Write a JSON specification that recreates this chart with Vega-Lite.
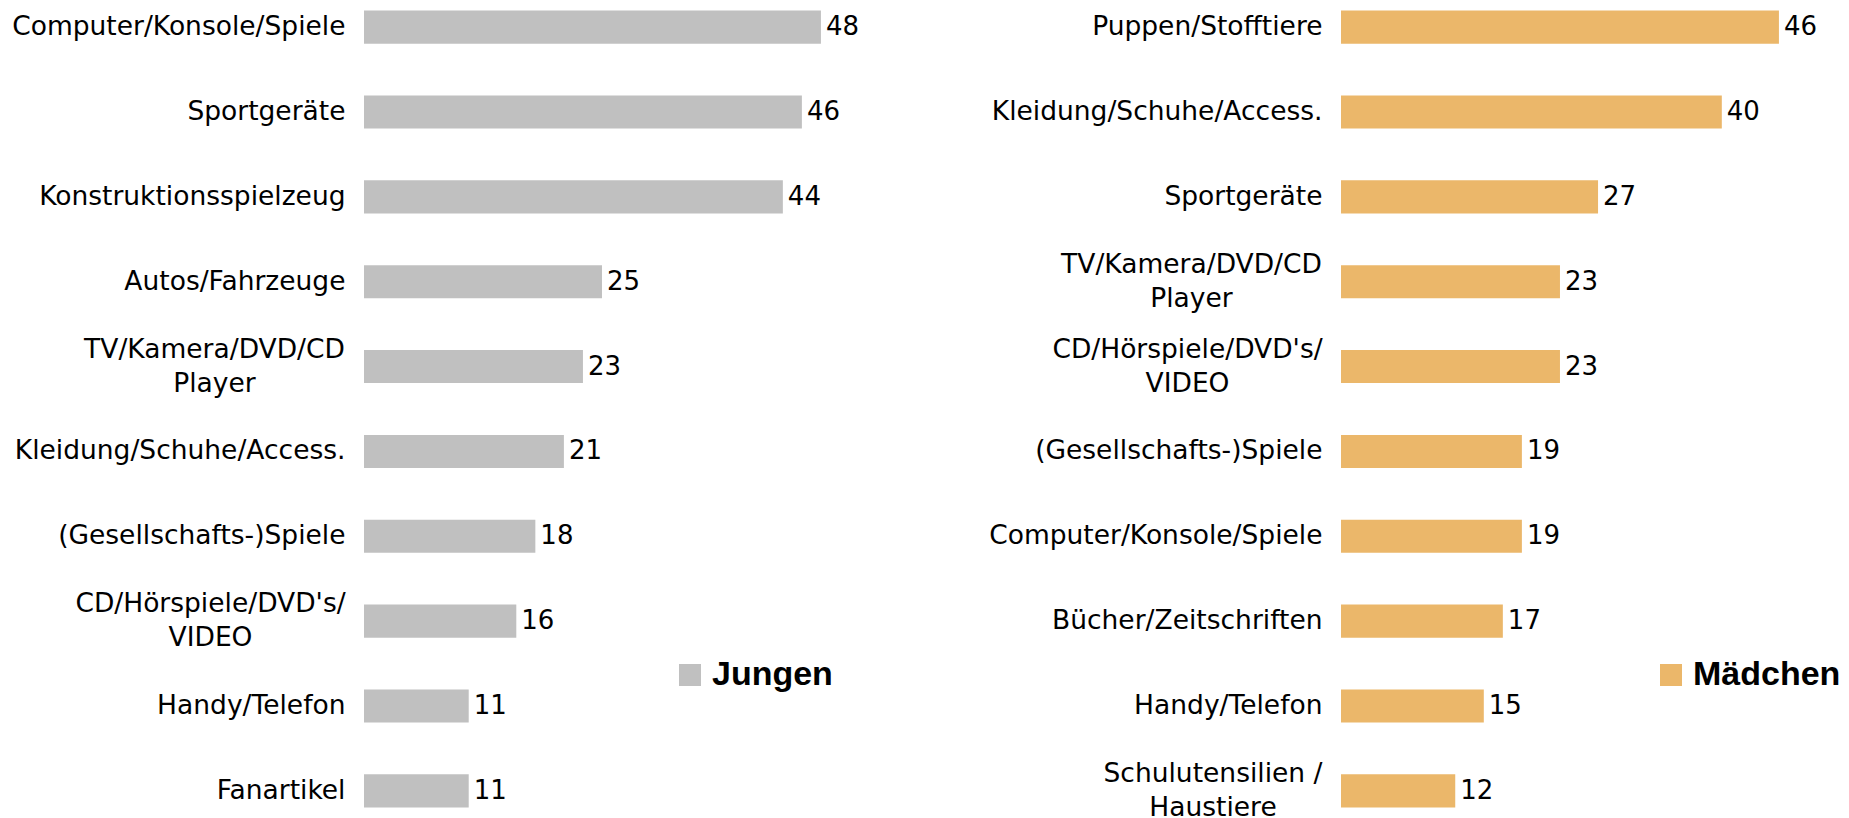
{
  "$schema": "https://vega.github.io/schema/vega-lite/v6.json",
  "padding": {"left": 9, "top": 0, "right": 0, "bottom": 0},
  "background": "white",
  "config": {
    "view": {"stroke": null},
    "concat": {"spacing": 0},
    "font": "DejaVu Sans",
    "axisY": {
      "title": null, "domain": false, "ticks": false, "tickSize": 0,
      "labelFontSize": 26.5, "labelFont": "DejaVu Sans",
      "labelColor": "#000000", "labelLimit": 0, "labelLineHeight": 34,
      "minExtent": 355, "maxExtent": 355
    }
  },
  "data": {
    "values": [
      {"gruppe": "Jungen", "kategorie": "Computer/Konsole/Spiele", "wert": 48},
      {"gruppe": "Jungen", "kategorie": "Sportgeräte", "wert": 46},
      {"gruppe": "Jungen", "kategorie": "Konstruktionsspielzeug", "wert": 44},
      {"gruppe": "Jungen", "kategorie": "Autos/Fahrzeuge", "wert": 25},
      {"gruppe": "Jungen", "kategorie": "TV/Kamera/DVD/CD\nPlayer", "wert": 23},
      {"gruppe": "Jungen", "kategorie": "Kleidung/Schuhe/Access.", "wert": 21},
      {"gruppe": "Jungen", "kategorie": "(Gesellschafts-)Spiele", "wert": 18},
      {"gruppe": "Jungen", "kategorie": "CD/Hörspiele/DVD's/\nVIDEO", "wert": 16},
      {"gruppe": "Jungen", "kategorie": "Handy/Telefon", "wert": 11},
      {"gruppe": "Jungen", "kategorie": "Fanartikel", "wert": 11},
      {"gruppe": "Mädchen", "kategorie": "Puppen/Stofftiere", "wert": 46},
      {"gruppe": "Mädchen", "kategorie": "Kleidung/Schuhe/Access.", "wert": 40},
      {"gruppe": "Mädchen", "kategorie": "Sportgeräte", "wert": 27},
      {"gruppe": "Mädchen", "kategorie": "TV/Kamera/DVD/CD\nPlayer", "wert": 23},
      {"gruppe": "Mädchen", "kategorie": "CD/Hörspiele/DVD's/\nVIDEO", "wert": 23},
      {"gruppe": "Mädchen", "kategorie": "(Gesellschafts-)Spiele", "wert": 19},
      {"gruppe": "Mädchen", "kategorie": "Computer/Konsole/Spiele", "wert": 19},
      {"gruppe": "Mädchen", "kategorie": "Bücher/Zeitschriften", "wert": 17},
      {"gruppe": "Mädchen", "kategorie": "Handy/Telefon", "wert": 15},
      {"gruppe": "Mädchen", "kategorie": "Schulutensilien /\nHaustiere", "wert": 12}
    ]
  },
  "resolve": {
    "scale": {"x": "independent", "y": "independent", "color": "independent"},
    "legend": {"color": "independent"}
  },
  "hconcat": [
    {
      "width": 622,
      "height": 818,
      "transform": [{"filter": "datum.gruppe === 'Jungen'"}],
      "encoding": {
        "y": {
          "field": "kategorie", "type": "nominal", "sort": null,
          "scale": {"paddingInner": 0.61, "paddingOuter": 0.125},
          "axis": {
            "labelExpr": "split(datum.label, '\\n')",
            "labelAlign": {"condition": {"test": "indexof(datum.value, '\\n') >= 0", "value": "center"}, "value": "right"},
            "labelOffset": {"condition": {"test": "indexof(datum.value, '\\n') >= 0", "value": -17}, "value": 0},
            "labelPadding": {"condition": [
              {"test": "indexof(datum.value, 'TV/') === 0", "value": 150},
              {"test": "indexof(datum.value, 'CD/H') === 0", "value": 154}
            ], "value": 19}
          }
        },
        "x": {
          "field": "wert", "type": "quantitative",
          "scale": {"domain": [0, 65.34], "nice": false, "zero": true},
          "axis": null
        }
      },
      "layer": [
        {
          "mark": {"type": "bar"},
          "encoding": {
            "color": {
              "field": "gruppe", "type": "nominal",
              "scale": {"range": ["#C0C0C0"]},
              "legend": {
                "title": null, "orient": "none", "legendX": 309, "legendY": 658,
                "symbolType": "square", "symbolSize": 484, "symbolStrokeWidth": 0,
                "labelFontSize": 34, "labelFontWeight": "bold", "labelFont": "Liberation Sans",
                "labelColor": "#000000", "labelOffset": 5, "labelLimit": 0, "padding": 0
              }
            }
          }
        },
        {
          "mark": {"type": "text", "align": "left", "baseline": "middle", "dx": 5, "fontSize": 26, "font": "DejaVu Sans", "color": "#000000"},
          "encoding": {"text": {"field": "wert", "type": "quantitative"}}
        }
      ]
    },
    {
      "width": 508,
      "height": 818,
      "transform": [{"filter": "datum.gruppe === 'Mädchen'"}],
      "encoding": {
        "y": {
          "field": "kategorie", "type": "nominal", "sort": null,
          "scale": {"paddingInner": 0.61, "paddingOuter": 0.125},
          "axis": {
            "labelExpr": "split(datum.label, '\\n')",
            "labelAlign": {"condition": {"test": "indexof(datum.value, '\\n') >= 0", "value": "center"}, "value": "right"},
            "labelOffset": {"condition": {"test": "indexof(datum.value, '\\n') >= 0", "value": -17}, "value": 0},
            "labelPadding": {"condition": [
              {"test": "indexof(datum.value, 'TV/') === 0", "value": 150},
              {"test": "indexof(datum.value, 'CD/H') === 0", "value": 154},
              {"test": "indexof(datum.value, 'Schul') === 0", "value": 128.5}
            ], "value": 19}
          }
        },
        "x": {
          "field": "wert", "type": "quantitative",
          "scale": {"domain": [0, 53.36], "nice": false, "zero": true},
          "axis": null
        }
      },
      "layer": [
        {
          "mark": {"type": "bar"},
          "encoding": {
            "color": {
              "field": "gruppe", "type": "nominal",
              "scale": {"range": ["#EBB76A"]},
              "legend": {
                "title": null, "orient": "none", "legendX": 313, "legendY": 658,
                "symbolType": "square", "symbolSize": 484, "symbolStrokeWidth": 0,
                "labelFontSize": 34, "labelFontWeight": "bold", "labelFont": "Liberation Sans",
                "labelColor": "#000000", "labelOffset": 5, "labelLimit": 0, "padding": 0
              }
            }
          }
        },
        {
          "mark": {"type": "text", "align": "left", "baseline": "middle", "dx": 5, "fontSize": 26, "font": "DejaVu Sans", "color": "#000000"},
          "encoding": {"text": {"field": "wert", "type": "quantitative"}}
        }
      ]
    }
  ]
}
